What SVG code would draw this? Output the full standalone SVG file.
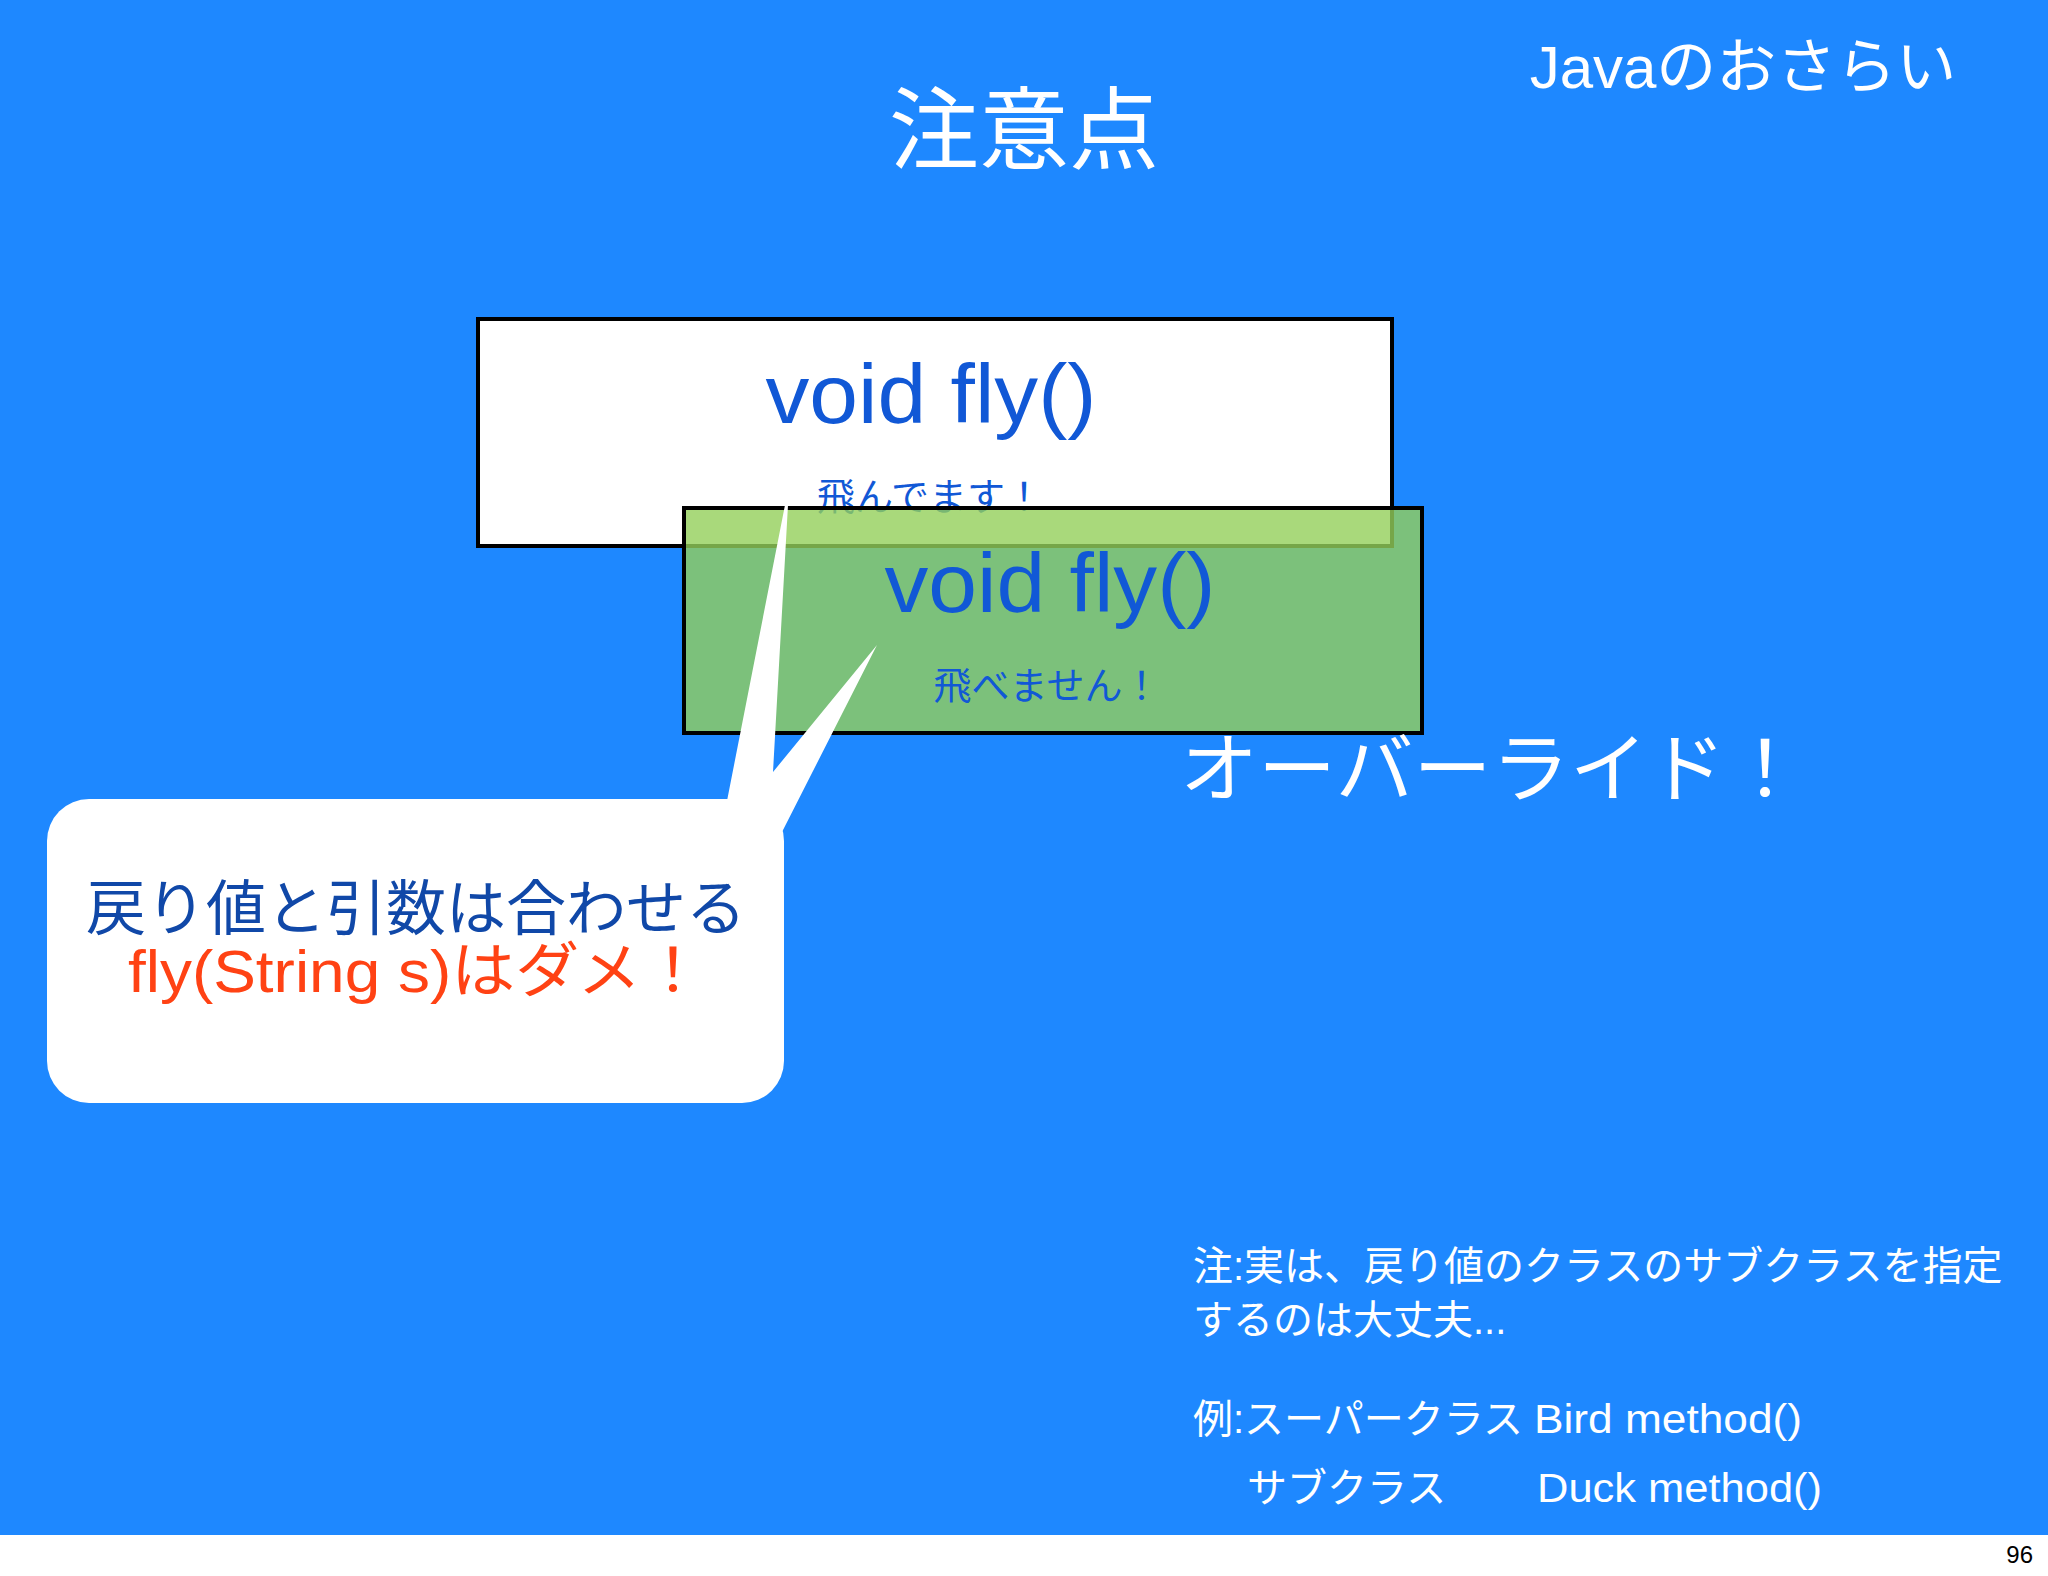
<svg xmlns="http://www.w3.org/2000/svg" width="2048" height="1576" viewBox="0 0 2048 1576">
<style>
.ja{font-family:"Liberation Sans","Noto Sans CJK JP",sans-serif}
.white{fill:#ffffff}
.code{fill:#1158d6;font-size:84px}
.small{fill:#1158d6;font-size:38px}
.note{fill:#ffffff;font-size:40px}
.box{stroke:#000000;stroke-width:4}
</style>
<rect x="0" y="0" width="2048" height="1576" fill="#ffffff"/>
<rect x="0" y="0" width="2048" height="1535" fill="#1e88ff"/>
<g id="title">
<text class="ja white" x="1024" y="162" font-size="90" text-anchor="middle">注意点</text>
</g>
<g id="header">
<text class="ja white" x="1743" y="88" font-size="60" text-anchor="middle">Javaのおさらい</text>
</g>
<g id="super-method">
<rect class="box" x="478" y="319" width="914" height="227" fill="#ffffff"/>
<text class="ja code" x="931" y="423" text-anchor="middle" textLength="331" lengthAdjust="spacingAndGlyphs">void fly()</text>
<text class="ja small" x="930" y="510" text-anchor="middle">飛んでます！</text>
</g>
<g id="sub-method">
<rect class="box" x="684" y="508" width="738" height="225" fill="#93cf5a" fill-opacity="0.8"/>
<text class="ja code" x="1050" y="612" text-anchor="middle" textLength="331" lengthAdjust="spacingAndGlyphs">void fly()</text>
<text class="ja small" x="1047" y="699" text-anchor="middle">飛べません！</text>
</g>
<g id="override-label">
<text class="ja white" x="1180" y="796" font-size="76" textLength="624" lengthAdjust="spacingAndGlyphs">オーバーライド！</text>
</g>
<g id="connectors">
<path d="M726,806 L785,505 L788,505 L773,772 L877,645 L781,834 Z" fill="#ffffff"/>
</g>
<g id="bubble">
<rect x="47" y="799" width="737" height="304" rx="42" ry="42" fill="#ffffff"/>
<text class="ja" x="416" y="930" font-size="60" fill="#1048a8" text-anchor="middle">戻り値と引数は合わせる</text>
<text class="ja" x="128" y="992" font-size="60" fill="#ff4214" textLength="577" lengthAdjust="spacingAndGlyphs">fly(String s)はダメ！</text>
</g>
<g id="notes">
<text class="ja note" x="1193" y="1280">注:実は、戻り値のクラスのサブクラスを指定</text>
<text class="ja note" x="1193" y="1334">するのは大丈夫...</text>
<text class="ja note" x="1193" y="1433">例:スーパークラス</text>
<text class="ja note" x="1534" y="1433" textLength="268" lengthAdjust="spacingAndGlyphs">Bird method()</text>
<text class="ja note" x="1247" y="1502">サブクラス</text>
<text class="ja note" x="1537" y="1502" textLength="285" lengthAdjust="spacingAndGlyphs">Duck method()</text>
</g>
<g id="page-number">
<text x="2033" y="1563" font-family="Liberation Sans, sans-serif" font-size="24" fill="#000000" text-anchor="end">96</text>
</g>
</svg>
